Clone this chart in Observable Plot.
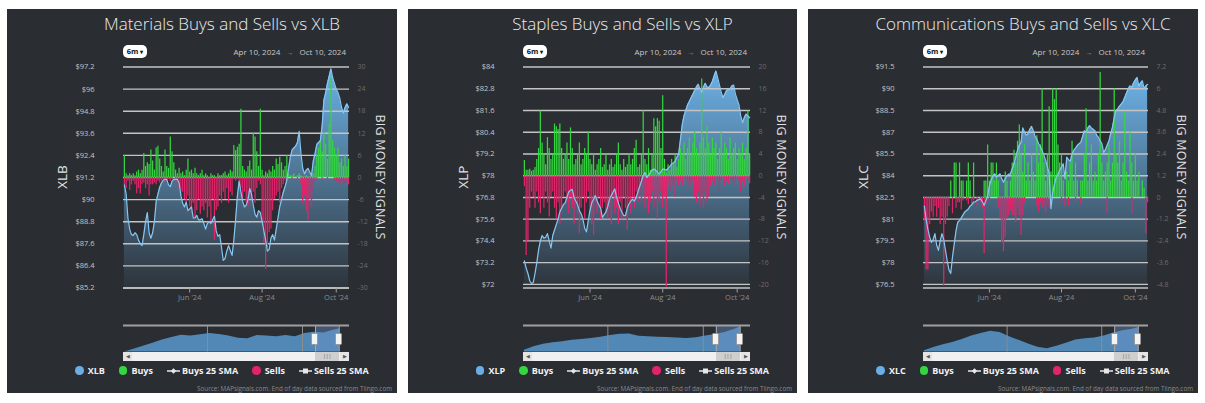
<!DOCTYPE html>
<html><head><meta charset="utf-8">
<script src="https://cdn.jsdelivr.net/npm/d3@7"></script>
<script src="https://cdn.jsdelivr.net/npm/@observablehq/plot@0.6"></script>
<style>
html,body{margin:0;padding:0;background:#fff;width:1205px;height:403px;overflow:hidden;font-family:"Open Sans",sans-serif;}
.panel{position:absolute;top:9px;height:384px;background:#2a2d32;overflow:hidden;}
.panel svg{position:absolute;left:0;}
.title{position:absolute;top:3px;left:40px;right:0;text-align:center;color:#ececec;font-size:17px;font-weight:300;white-space:nowrap;}
.btn{position:absolute;top:36px;width:24px;height:13px;background:#fff;border-radius:5px;color:#111;font-weight:700;font-size:7.5px;line-height:13px;text-align:center;}
.dates{position:absolute;top:37px;height:12px;line-height:12px;color:#c8c8c8;font-size:8px;white-space:nowrap;}
.dates .arr{color:#999;margin:0 6px;font-size:7px;}
.rot{position:absolute;color:#e2e2e2;white-space:nowrap;transform:translate(-50%,-50%);line-height:1;}
.legend{position:absolute;top:355px;left:40px;right:0;display:flex;justify-content:center;align-items:center;color:#f2f2f2;font-weight:700;font-size:9px;white-space:nowrap;}
.legend .it{display:flex;align-items:center;margin:0 7px;}
.legend .dot{width:8.5px;height:8.5px;border-radius:50%;margin-right:4px;}
.legend svg{position:static;margin-right:2px;}
.source{position:absolute;top:375px;right:5px;color:#8a8a8a;font-size:6.3px;white-space:nowrap;}
.track{position:absolute;top:343px;height:9px;background:#f0f0f0;}
.thumb{position:absolute;top:343px;height:9px;background:#cfcfcf;color:#666;font-size:6px;line-height:9px;text-align:center;letter-spacing:-0.5px;}
.arrbtn{position:absolute;top:343px;width:9px;height:9px;background:#e4e4e4;color:#555;font-size:5px;line-height:9px;text-align:center;}
.handle{position:absolute;top:324px;width:5px;height:10px;background:#f4f4f4;border:1px solid #999;border-radius:1.5px;}
</style></head>
<body><div id="root"></div>
<script>
// ---------- data ----------
const tradingHolidays = ["2024-05-27","2024-06-19","2024-07-04","2024-09-02"];
const rangeStart = "2024-04-10", rangeEnd = "2024-10-10";

const xlbClose = [90.8,90.3,89.0,88.4,88.1,88.06,88.2,88.1,87.8,87.6,
87.5,88.1,88.8,89.3,88.2,87.9,88.2,88.8,89.9,90.3,
90.67,90.9,91.05,91.1,91.1,90.8,90.7,91.0,91.1,91.1,
91.1,90.9,90.2,89.8,89.6,89.86,89.4,89.5,89.6,89.0,
89.0,89.14,88.9,88.9,88.96,88.7,88.4,88.7,88.8,88.7,
88.9,89.1,88.3,88.0,88.1,87.4,86.7,86.8,87.2,87.5,
87.24,86.97,87.8,88.9,90.2,91.0,90.4,89.9,89.6,89.7,
90.0,90.6,90.3,89.7,89.2,89.05,89.4,89.3,88.8,88.3,
87.8,87.2,87.3,87.9,88.1,87.8,88.4,89.0,89.6,90.0,
90.4,90.7,91.05,91.7,92.3,92.7,92.8,92.9,93.1,93.7,
92.5,91.7,91.4,91.6,91.7,91.5,91.3,92.1,92.5,93.0,
93.1,93.2,94.0,95.4,95.8,96.3,96.7,97.1,96.6,96.3,
96.0,95.8,95.5,95.0,94.7,95.0,95.2,95.0];
const xlbBuys = [6,1,0.5,1,0.5,1,0.5,1.5,2,1,
2,6.5,3,4,3.5,7.5,4.5,2,8,8.5,
5,3,1.5,7.5,3,2.5,11,7,4,2,
1,2.5,1,1.5,0.5,2,5,1.5,2,1,
2.5,1,0.5,1,2,0.5,1,0.5,0,1,
0.5,0.5,0,1,0.5,0.5,1,1.5,0.5,1,
2,1.5,8.7,7.3,8.2,9,18.5,3,2,1.5,
3,4.5,2,12,11,7,3,18.5,2,0.5,
1.5,1,2,1.5,3,2,5,3.5,5.5,4,
2,3,6,1,0.5,0.5,1,0,0.5,1,
0.5,0,0,0.5,0,0,0.5,1,3,6,
8,10,7,12,9,5,14.6,27,10,8,
6,8,4,5,3,6,3,5];
const xlbSells = [-2,-3,-1,-3.5,-2,-1,-2,-4.4,-3,-4.5,
-2,-1.5,-3,-2,-5,-2,-2,-1.5,-2,-1,
-1.5,-1,-0.5,-1,-1,-0.5,-1,-0.5,0,-1,
-2,-3,-5,-4,-6,-7,-5,-8,-10,-7,
-11,-9,-6,-10,-8,-9,-7,-11,-8,-12,
-6,-17,-9,-8,-5,-7,-4,-6,-3,-7,
-4,-5,-0.5,-1,-0.5,-1,-3,-6,-4,-7,
-8,-5,-6,-4,-7,-3,-1,-2,-12,-18,
-25,-19,-15,-14,-9,-6,-5,-4,-7,-3,
-2,-1,-1,0,0,-0.5,0,0,-0.5,0,
-2,-7,-5,-9,-11.7,-6,-8,-4,-1,-0.5,
0,0,-0.5,0,0,-0.5,0,0,0,-0.5,
-1,-1.5,-2,-1,-2,-1.5,-1,-2];

const xlpClose = [73.3,72.9,72.6,72.2,72.05,72.1,72.6,73.2,73.9,74.4,
74.7,74.55,74.6,74.8,74.4,74.0,74.7,75.0,75.3,75.6,
76.0,76.2,76.4,76.5,76.8,77.1,77.2,77.25,76.8,76.6,
76.4,76.07,75.9,75.6,75.1,74.9,75.5,76.1,76.5,76.7,
76.9,76.6,76.4,76.2,75.7,75.85,76.0,76.3,76.7,76.9,
77.1,77.27,76.8,76.5,76.2,75.98,75.8,75.8,76.2,76.45,
76.6,76.7,76.6,76.8,77.1,77.4,77.7,78.0,78.18,77.9,
78.0,78.18,78.3,78.37,78.3,78.2,78.1,78.2,78.37,78.35,
78.3,78.4,78.5,78.64,78.7,78.8,79.0,79.2,80.0,80.8,
81.3,81.6,81.9,82.1,82.3,82.5,82.7,82.9,83.05,82.8,
82.6,82.9,83.1,82.9,82.86,83.0,83.2,83.5,83.78,83.4,
83.0,82.6,82.3,82.5,82.7,82.75,82.8,82.95,83.0,82.5,
82.2,81.9,81.3,80.93,81.2,81.4,81.3,81.2];
const xlpBuys = [2.8,1,1,1.2,0.8,1,1.5,3,5,11.9,
6,4,2,7,5,3,4,9.5,9,8.5,
9.5,5,3,4,6,3,8.8,5,2,3,
4,6,2,3,5,4,8,3,2,4,
1,2,3,5,1.5,2,4,1,2,3,
1.5,2,4,6,2,1,3,1.5,2,4,
2,3,5,6.5,1.5,2,4,11.9,3,2,
5,1,4,10.5,9,10.5,10,5,14.7,3,
0.5,2,1,3,2,4,1.5,3,5,4,
6,3,5,7,4,6,8,5,4,6,
17.8,7,5,9,6,4,7,5,6,3,
5,8,4,6,5,3,7,4,5,6,
3,5,4,6,3,5,11.9,4];
const xlpSells = [-2,-14.7,-12,-6,-3,-4,-6,-3,-5,-7,
-4,-6,-3,-5,-7.6,-4,-3,-6,-8,-5,
-9,-6,-4,-3,-5,-7,-4,-6,-9,-5,
-7,-10.7,-6,-4,-8,-5,-3,-6,-9,-11,
-5,-7,-4,-8,-6,-5,-7,-8,-6,-9,
-4,-7,-6,-9,-5,-8,-4,-6,-10,-5,
-7,-4,-6,-3,-5,-3,-5,-2,-6,-4,
-7,-5,-3,-6,-4,-8,-5,-3,-6,-4,
-20.5,-2,-3,-1,-2,-4,-1,-2,-1,-2,
-0.5,-1,-3,-1.5,-2,-1,-4,-5,-3,-5.5,
-4,-6,-3,-5,-4,-2,-1,-2,-0.5,-1,
-3,-1,-0.5,-2,-1,-1.5,-0.5,-1,-2,-1,
-0.5,-1,-3,-1,-2,-0.5,-1,-1.5];

const xlcClose = [81.9,81.0,80.3,79.77,79.4,79.6,80.0,79.2,78.85,79.5,
80.0,79.6,78.85,78.1,77.5,77.25,78.4,79.3,80.2,80.8,
80.9,81.1,81.3,81.5,81.6,81.7,81.9,82.0,82.18,82.2,
82.3,82.35,82.4,82.2,81.95,82.3,82.6,83.3,83.7,84.0,
84.13,83.9,84.0,84.13,83.8,83.55,83.8,84.0,84.1,84.13,
84.5,84.82,85.3,85.74,86.1,86.3,87.3,87.0,86.8,86.9,
87.2,87.4,87.1,86.7,86.5,86.2,86.0,85.74,85.4,85.05,
84.6,84.13,81.72,82.8,83.4,83.9,84.1,84.36,84.6,84.82,
83.8,85.28,85.1,85.0,85.5,85.74,85.9,86.08,86.2,86.3,
86.7,87.1,87.0,87.3,87.45,87.3,87.2,87.1,86.8,86.65,
86.4,86.2,85.6,85.8,86.1,86.4,86.9,87.34,88.0,88.5,
88.6,88.8,88.94,89.1,89.4,89.7,90.0,90.2,90.1,90.4,
90.6,90.78,90.2,90.4,90.55,90.0,90.2,90.3];
const xlcBuys = [0,0,0,0,0,0,0,0,0,0,
0,0,0,0,0,0.9,0,1.9,1.9,0,
1.9,0.9,0.9,0,0.9,1.9,0.9,0,1.9,0,
0,0,0,0,0.9,0.9,2.9,0.9,1.9,1.9,
0.9,1.9,0.9,0,0,0,1.4,0.9,0,0.9,
1.9,2.6,1.9,3.1,4.0,2.4,1.4,2.9,0.9,1.9,
0.9,2.4,1.4,0.9,3.4,1.9,2.9,6.0,1.9,0.9,
2.4,5.0,1.4,6.0,5.4,6.0,2.9,1.9,2.4,0.9,
0,1.4,0.9,1.9,3.1,0.9,1.9,0.9,0,0.9,
0.9,2.4,4.9,0.9,1.9,2.9,0.9,1.4,0.9,2.4,
6.9,1.9,0.9,1.4,1.9,2.9,0.9,1.9,6.0,2.4,
1.9,3.1,0.9,1.9,4.7,1.4,0.9,3.6,1.9,0.9,
2.4,0.9,1.4,0,0.9,0.5,0,0];
const xlcSells = [-1.3,-4.0,-4.0,-1.5,-0.8,-1.1,-0.5,-1.1,-0.6,-1.5,
-1.1,-4.9,-1.5,-1.1,-0.5,0,-0.9,0,-0.6,-0.3,
-0.3,-0.7,-0.2,0,-0.2,-0.4,0,-0.4,-0.2,0,
-0.5,0,-0.3,-0.6,-3.1,-0.4,0,-0.2,0,0,
0,0,-0.6,-1.2,-2.5,-3.0,-2.2,-1.2,-1.0,-0.7,
-1.0,-1.0,-1.4,-0.6,-1.0,-2.1,-1.0,-0.3,0,0,
0,0,0,0,-0.5,-0.8,-0.3,-0.6,-0.5,-0.9,
-0.4,-0.6,-0.5,0,0,0,0,0,-0.3,0,
-0.5,0,-0.5,0,0,0,-0.3,0,0,-0.4,
0,0,0,0,0,0,0,0,0,0,
0,0,0,0,-0.9,0,0,0,0,0,
0,0,0,0,0,0,0,0,-0.9,0,
0,0,0,0,0,0,-2.0,-0.3];

// navigator history (relative height, % of navigator) at fractional years
const navYears = [2020.25,2020.45,2020.65,2020.85,2021.05,2021.25,2021.45,2021.65,2021.85,2022.05,2022.25,2022.45,2022.65,2022.85,2023.05,2023.25,2023.45,2023.65,2023.85,2024.05,2024.25,2024.45,2024.65,2024.78];
const xlbNav = [0,10,22,33,45,55,63,60,65,70,66,60,52,50,62,60,58,62,58,70,75,72,82,88];
const xlpNav = [7,20,29,35,39,44,47,51,56,62,67,68,59,58,56,55,53,51,54,60,66,74,85,95];
const xlcNav = [5,17,27,36,47,60,70,78,74,58,44,30,18,12,22,33,45,50,53,60,72,80,86,92];
const navDomain = [2020.232, 2024.989];
const navYearLines = [2022, 2024];

const xlbPriceTicks = [85.2,86.4,87.6,88.8,90,91.2,92.4,93.6,94.8,96,97.2];
const xlbSignalTicks = [-30,-24,-18,-12,-6,0,6,12,18,24,30];
const xlpPriceTicks = [72,73.2,74.4,75.6,76.8,78,79.2,80.4,81.6,82.8,84];
const xlpSignalTicks = [-20,-16,-12,-8,-4,0,4,8,12,16,20];
const xlcPriceTicks = [76.5,78,79.5,81,82.5,84,85.5,87,88.5,90,91.5];
const xlcSignalTicks = [-4.8,-3.6,-2.4,-1.2,0,1.2,2.4,3.6,4.8,6,7.2];

const legendItems = ["Buys","Buys 25 SMA","Sells","Sells 25 SMA"];
const sourceText = "Source: MAPsignals.com. End of day data sourced from Tiingo.com";

const panels = [
  {key:"xlb", title:"Materials Buys and Sells vs XLB", ticker:"XLB", left:7, width:390, ml:116, mr:48,
   close:xlbClose, buys:xlbBuys, sells:xlbSells, nav:xlbNav, priceTicks:xlbPriceTicks, sigTicks:xlbSignalTicks, yMin:85.2},
  {key:"xlp", title:"Staples Buys and Sells vs XLP", ticker:"XLP", left:408, width:389, ml:115, mr:47,
   close:xlpClose, buys:xlpBuys, sells:xlpSells, nav:xlpNav, priceTicks:xlpPriceTicks, sigTicks:xlpSignalTicks, yMin:71.8},
  {key:"xlc", title:"Communications Buys and Sells vs XLC", ticker:"XLC", left:808, width:390, ml:115, mr:50,
   close:xlcClose, buys:xlcBuys, sells:xlcSells, nav:xlcNav, priceTicks:xlcPriceTicks, sigTicks:xlcSignalTicks, yMin:76.25}
];

// ---------- build ----------
const COLORS = {price:"#6aaee3", line:"#86c6f2", buy:"#34d63f", sell:"#e2246a", grid:"#c4c4c4"};
const fmtISO = d3.utcFormat("%Y-%m-%d");
const days = d3.utcDay.range(new Date(rangeStart), d3.utcDay.offset(new Date(rangeEnd), 1))
  .filter(d => d.getUTCDay() % 6 !== 0 && !tradingHolidays.includes(fmtISO(d)));
const yearFrac = d => d.getUTCFullYear() + (d3.utcDay.count(d3.utcYear(d), d)) / 366;
const winStart = yearFrac(days[0]), winEnd = yearFrac(days[days.length - 1]);
const xTickIdx = [], xTickLab = [];
days.forEach((d, i) => {
  if (i > 0 && d.getUTCMonth() !== days[i-1].getUTCMonth() && d.getUTCMonth() % 2 === 1) {
    xTickIdx.push(i); xTickLab.push(d3.utcFormat("%b '%y")(d));
  }
});
const fmtDate = d3.utcFormat("%b %-d, %Y");

const root = document.getElementById("root");
panels.forEach(p => {
  const zero = p.priceTicks[p.sigTicks.indexOf(0)];
  const factor = (p.priceTicks[1] - p.priceTicks[0]) / (p.sigTicks[1] - p.sigTicks[0]);
  const toP = s => zero + s * factor;
  const yDomain = [p.yMin, p.priceTicks[p.priceTicks.length - 1]];
  const rows = days.map((d, i) => ({i, date: d, price: p.close[i], buy: p.buys[i], sell: p.sells[i]}));
  const rightMap = new Map(p.sigTicks.map(s => [toP(s), s]));
  const xMap = new Map(xTickIdx.map((t, k) => [t, xTickLab[k]]));

  const div = document.createElement("div");
  div.className = "panel";
  div.style.left = p.left + "px";
  div.style.width = p.width + "px";
  root.appendChild(div);

  const main = Plot.plot({
    width: p.width, height: 247,
    marginLeft: p.ml, marginRight: p.mr, marginTop: 8.5, marginBottom: 17.5,
    style: {background: "transparent", color: "#bbb", fontFamily: "Open Sans, sans-serif", fontSize: "7.5px", overflow: "visible"},
    x: {domain: [-0.5, days.length - 0.5], label: null},
    y: {domain: yDomain, label: null},
    marks: [
      Plot.areaY(rows, {x: "i", y1: yDomain[0], y2: "price", fill: `url(#grad-${p.key})`}),
      Plot.ruleY(p.priceTicks, {stroke: COLORS.grid, strokeWidth: 1.4}),
      Plot.ruleY([yDomain[0]], {stroke: COLORS.grid, strokeWidth: 1.4}),
      Plot.ruleX(rows.filter(d => d.buy > 0), {x: "i", y1: zero, y2: d => toP(d.buy), stroke: COLORS.buy, strokeWidth: 1.25}),
      Plot.ruleX(rows.filter(d => d.sell < 0), {x: "i", y1: zero, y2: d => toP(d.sell), stroke: COLORS.sell, strokeWidth: 1.25}),
      Plot.lineY(rows, {x: "i", y: "price", stroke: COLORS.line, strokeWidth: 1.2}),
      Plot.axisY({ticks: p.priceTicks, tickFormat: d => "$" + d, tickSize: 0, tickPadding: 29, fill: "#c6c6c6", label: null}),
      Plot.axisY({anchor: "right", ticks: p.sigTicks.map(toP), tickFormat: d => String(rightMap.get(d)), tickSize: 0, tickPadding: 8, fill: "#6c6c6c", fontSize: 7, label: null}),
      Plot.axisX({ticks: xTickIdx, tickFormat: d => xMap.get(d), tickSize: 5, tickPadding: 1.5, stroke: "#a0a0a0", fill: "#8c8c8c", fontSize: 7.5, label: null})
    ]
  });
  const defs = d3.select(main).insert("defs", ":first-child");
  const g = defs.append("linearGradient").attr("id", `grad-${p.key}`).attr("x1", 0).attr("y1", 0).attr("x2", 0).attr("y2", 1);
  g.append("stop").attr("offset", "0%").attr("stop-color", "#6cb1e6");
  g.append("stop").attr("offset", "100%").attr("stop-color", "#2e343b");
  main.style.top = "49px";
  div.appendChild(main);

  const navRows = navYears.map((t, k) => ({t, v: p.nav[k]}));
  const nav = Plot.plot({
    width: p.width, height: 42,
    marginLeft: p.ml, marginRight: p.mr, marginTop: 3, marginBottom: 12.5,
    style: {background: "transparent", overflow: "visible"},
    x: {domain: navDomain, axis: null},
    y: {domain: [0, 100], axis: null},
    marks: [
      Plot.areaY(navRows, {x: "t", y: "v", fill: "#5b9fd6", fillOpacity: 0.8}),
      Plot.ruleX(navYearLines, {y1: 0, y2: 100, stroke: "#8c8c8c", strokeWidth: 1}),
      Plot.rect([{a: winStart, b: winEnd}], {x1: "a", x2: "b", y1: 0, y2: 100, fill: "#6d93cc", fillOpacity: 0.4}),
      Plot.ruleX([winStart, winEnd], {y1: 0, y2: 100, stroke: "#a8a8a8", strokeWidth: 1}),
      Plot.ruleY([100], {stroke: "#a0a0a0", strokeWidth: 2})
    ]
  });
  nav.style.top = "313px";
  div.appendChild(nav);
  const sx = nav.scale("x").apply;
  const x0 = p.ml, x1 = p.width - p.mr;
  const a = sx(winStart), b = sx(winEnd);

  const html = [];
  html.push(`<div class="title">${p.title}</div>`);
  html.push(`<div class="btn" style="left:${p.ml}px">6m <span style="font-size:6px">&#9662;</span></div>`);
  html.push(`<div class="dates" style="right:${p.mr + 3}px">${fmtDate(days[0])}<span class="arr">&#8594;</span>${fmtDate(days[days.length-1])}</div>`);
  html.push(`<div class="rot" style="left:56px;top:168px;font-size:13.5px;transform:translate(-50%,-50%) rotate(-90deg)">${p.ticker}</div>`);
  html.push(`<div class="rot" style="left:373px;top:168px;font-size:12.5px;letter-spacing:0.2px;transform:translate(-50%,-50%) rotate(90deg)">BIG MONEY SIGNALS</div>`);
  html.push(`<div class="track" style="left:${x0}px;width:${x1 - x0}px"></div>`);
  html.push(`<div class="thumb" style="left:${a}px;width:${b - a}px">|||</div>`);
  html.push(`<div class="arrbtn" style="left:${x0}px">&#9664;</div>`);
  html.push(`<div class="arrbtn" style="left:${x1 - 9}px">&#9654;</div>`);
  html.push(`<div class="handle" style="left:${a - 3.5}px"></div>`);
  html.push(`<div class="handle" style="left:${b - 3.5}px"></div>`);
  const smaBuy = `<svg width="13" height="8"><line x1="0" y1="4" x2="13" y2="4" stroke="#e8e8e8" stroke-width="1.5"/><path d="M6.5 1.3L9.2 4L6.5 6.7L3.8 4Z" fill="#e8e8e8"/></svg>`;
  const smaSell = `<svg width="13" height="8"><line x1="0" y1="4" x2="13" y2="4" stroke="#e8e8e8" stroke-width="1.5"/><rect x="4" y="1.5" width="5" height="5" fill="#e8e8e8"/></svg>`;
  html.push(`<div class="legend">
    <span class="it"><span class="dot" style="background:${COLORS.price}"></span>${p.ticker}</span>
    <span class="it"><span class="dot" style="background:${COLORS.buy}"></span>${legendItems[0]}</span>
    <span class="it">${smaBuy}${legendItems[1]}</span>
    <span class="it"><span class="dot" style="background:${COLORS.sell}"></span>${legendItems[2]}</span>
    <span class="it">${smaSell}${legendItems[3]}</span></div>`);
  html.push(`<div class="source">${sourceText}</div>`);
  div.insertAdjacentHTML("beforeend", html.join(""));
  if (p.close.length !== days.length || p.buys.length !== days.length || p.sells.length !== days.length) {
    div.insertAdjacentHTML("beforeend", `<div style="position:absolute;top:0;left:0;color:red;font-size:10px">len ${days.length} ${p.close.length} ${p.buys.length} ${p.sells.length}</div>`);
  }
});
</script></body></html>
